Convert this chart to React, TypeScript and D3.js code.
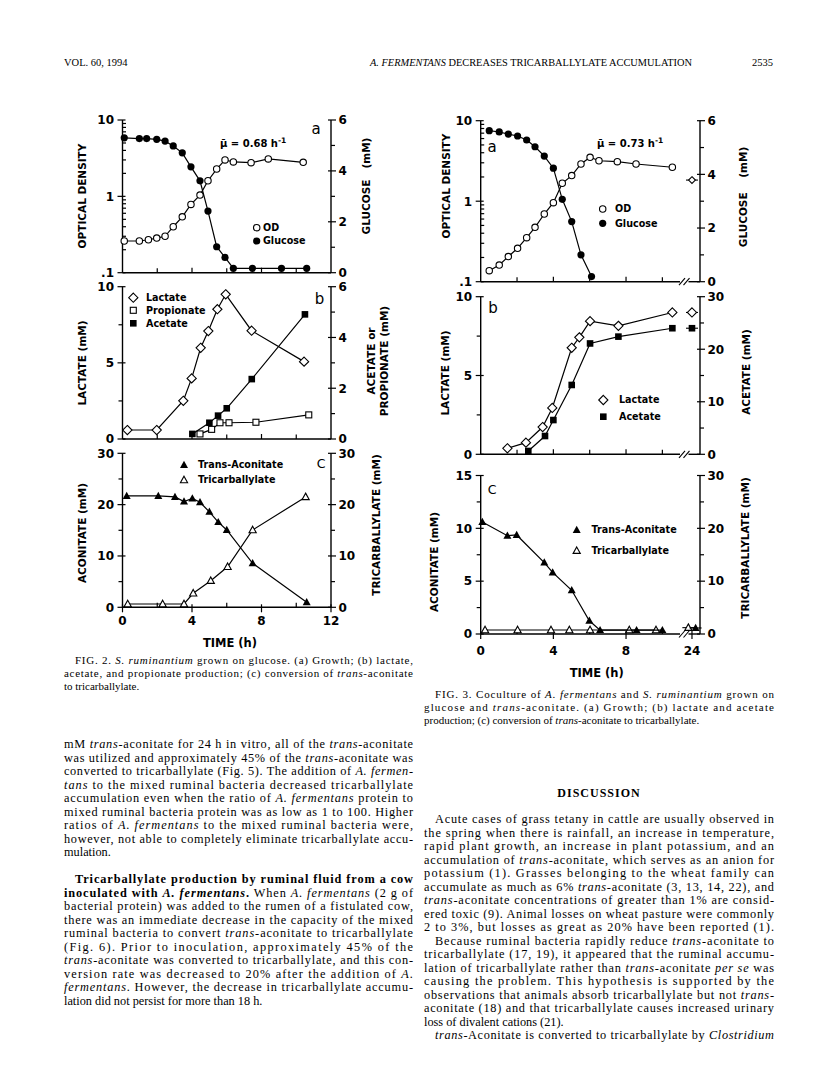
import React from "react";
import * as d3 from "d3";

// ---------------- Fig. 2 data (S. ruminantium on glucose) ----------------
const f2aOdTime = [0.1, 0.97, 1.49, 1.97, 2.45, 2.92, 3.44, 3.94, 4.46, 4.92, 5.42, 5.9, 6.38, 7.4, 8.39, 10.4];
const f2aOd = [0.26, 0.26, 0.27, 0.284, 0.3, 0.4, 0.54, 0.785, 1.04, 1.6, 2.28, 3.0, 2.82, 2.76, 3.09, 2.79];
const f2aGluTime = [0.1, 0.97, 1.39, 1.97, 2.45, 2.92, 3.44, 3.94, 4.46, 4.92, 5.42, 5.9, 6.38, 7.48, 9.15, 10.6];
const f2aGlu = [5.3, 5.27, 5.27, 5.24, 5.17, 4.98, 4.71, 4.16, 3.61, 2.42, 1.02, 0.6, 0.17, 0.17, 0.17, 0.17];

const f2bLacTime = [0.28, 1.97, 3.5, 3.98, 4.5, 4.94, 5.46, 5.94, 7.43, 10.45];
const f2bLac = [0.59, 0.59, 2.51, 3.98, 5.99, 7.09, 8.52, 9.5, 7.11, 5.08];
const f2bPropTime = [4.46, 5.13, 5.61, 6.13, 7.68, 10.72];
const f2bProp = [0.2, 0.38, 0.64, 0.64, 0.66, 0.95];
const f2bAceTime = [4.02, 5.0, 5.5, 6.0, 7.44, 10.5];
const f2bAce = [0.2, 0.64, 0.92, 1.21, 2.36, 4.91];

const f2cAconTime = [0.24, 2.06, 3.02, 3.54, 4.02, 4.46, 5.0, 5.51, 6.0, 7.49, 10.6];
const f2cAcon = [21.7, 21.7, 21.5, 20.6, 21.2, 20.45, 18.6, 16.6, 15.06, 8.57, 0.97];
const f2cTricTime = [0.3, 2.31, 3.54, 4.07, 5.08, 6.05, 7.49, 10.54];
const f2cTric = [0.64, 0.64, 0.64, 2.73, 5.18, 7.9, 15.06, 21.5];

// ---------------- Fig. 3 data (coculture) ----------------
const f3aOdTime = [0.47, 1.02, 1.52, 2.03, 2.53, 2.99, 3.5, 4.0, 4.49, 5.01, 5.52, 6.02, 6.51, 7.52, 8.55, 10.55, 24];
const f3aOd = [0.137, 0.161, 0.205, 0.26, 0.352, 0.473, 0.693, 0.96, 1.67, 2.08, 2.9, 3.51, 3.18, 3.1, 2.9, 2.64, 1.83];
const f3aGluTime = [0.47, 1.02, 1.52, 2.03, 2.53, 2.99, 3.5, 4.0, 4.49, 5.01, 5.52, 6.1];
const f3aGlu = [5.63, 5.58, 5.5, 5.43, 5.28, 5.03, 4.68, 4.23, 3.07, 2.24, 1.0, 0.19];

const f3bLacTime = [1.47, 2.49, 3.41, 3.94, 5.01, 5.43, 6.02, 7.58, 10.55, 24];
const f3bLac = [0.38, 0.74, 1.73, 2.94, 6.76, 7.42, 8.45, 8.15, 9.0, 9.0];
const f3bAceTime = [2.62, 3.54, 4.0, 5.01, 6.02, 7.58, 10.55, 24];
const f3bAce = [0.63, 3.48, 6.52, 13.2, 21.1, 22.4, 24.0, 24.0];

const f3cAconTime = [0.09, 1.47, 1.98, 3.5, 3.96, 5.01, 5.98, 6.57, 8.58, 10.0, 24.2];
const f3cAcon = [10.6, 9.3, 9.37, 6.76, 5.83, 4.14, 1.25, 0.37, 0.37, 0.37, 0.57];
const f3cTricTime = [0.24, 2.03, 3.87, 4.88, 6.02, 8.18, 9.65, 23.8];
const f3cTric = [0.76, 0.76, 0.76, 0.76, 0.76, 0.76, 0.76, 1.2];

// ---------------- tick definitions ----------------
const logMajor = [0.1, 1, 10];
const logMajorLabels = [".1", "1", "10"];
const glucoseTicks = [0, 1, 2, 3, 4, 5, 6];
const glucoseLabeled = [0, 2, 4, 6];
const lactateTicks = [0, 2.5, 5, 7.5, 10];
const lactateLabeled = [0, 5, 10];
const thirtyTicks = [0, 5, 10, 15, 20, 25, 30];
const thirtyLabeled = [0, 10, 20, 30];
const fifteenTicks = [0, 2.5, 5, 7.5, 10, 12.5, 15];
const fifteenLabeled = [0, 5, 10, 15];
const f2TimeLabeled = [0, 4, 8, 12];
const f2TimeMinor = [2, 6, 10];
const f3TimeLabeled = [0, 4, 8, 24];
const f3TimeMinor = [2, 6, 10];

// ---------------- page text ----------------
const headerLeft = "VOL. 60, 1994";
const headerTitle = "A. FERMENTANS DECREASES TRICARBALLYLATE ACCUMULATION";
const headerPage = "2535";

const fig2Caption = [
  "FIG. 2. *S. ruminantium* grown on glucose. (a) Growth; (b) lactate,",
  "acetate, and propionate production; (c) conversion of *trans*-aconitate",
  "to tricarballylate.",
];
const fig3Caption = [
  "FIG. 3. Coculture of *A. fermentans* and *S. ruminantium* grown on",
  "glucose and *trans*-aconitate. (a) Growth; (b) lactate and acetate",
  "production; (c) conversion of *trans*-aconitate to tricarballylate.",
];
const leftPara1 = [
  "mM *trans*-aconitate for 24 h in vitro, all of the *trans*-aconitate",
  "was utilized and approximately 45% of the *trans*-aconitate was",
  "converted to tricarballylate (Fig. 5). The addition of *A. fermen-*",
  "*tans* to the mixed ruminal bacteria decreased tricarballylate",
  "accumulation even when the ratio of *A. fermentans* protein to",
  "mixed ruminal bacteria protein was as low as 1 to 100. Higher",
  "ratios of *A. fermentans* to the mixed ruminal bacteria were,",
  "however, not able to completely eliminate tricarballylate accu-",
  "mulation.",
];
const leftPara2 = [
  "**Tricarballylate production by ruminal fluid from a cow**",
  "**inoculated with *A. fermentans*.** When *A. fermentans* (2 g of",
  "bacterial protein) was added to the rumen of a fistulated cow,",
  "there was an immediate decrease in the capacity of the mixed",
  "ruminal bacteria to convert *trans*-aconitate to tricarballylate",
  "(Fig. 6). Prior to inoculation, approximately 45% of the",
  "*trans*-aconitate was converted to tricarballylate, and this con-",
  "version rate was decreased to 20% after the addition of *A.*",
  "*fermentans*. However, the decrease in tricarballylate accumu-",
  "lation did not persist for more than 18 h.",
];
const rightHeading = "DISCUSSION";
const rightPara1 = [
  "Acute cases of grass tetany in cattle are usually observed in",
  "the spring when there is rainfall, an increase in temperature,",
  "rapid plant growth, an increase in plant potassium, and an",
  "accumulation of *trans*-aconitate, which serves as an anion for",
  "potassium (1). Grasses belonging to the wheat family can",
  "accumulate as much as 6% *trans*-aconitate (3, 13, 14, 22), and",
  "*trans*-aconitate concentrations of greater than 1% are consid-",
  "ered toxic (9). Animal losses on wheat pasture were commonly",
  "2 to 3%, but losses as great as 20% have been reported (1).",
];
const rightPara2 = [
  "Because ruminal bacteria rapidly reduce *trans*-aconitate to",
  "tricarballylate (17, 19), it appeared that the ruminal accumu-",
  "lation of tricarballylate rather than *trans*-aconitate *per se* was",
  "causing the problem. This hypothesis is supported by the",
  "observations that animals absorb tricarballylate but not *trans*-",
  "aconitate (18) and that tricarballylate causes increased urinary",
  "loss of divalent cations (21).",
];
const rightPara3 = ["*trans*-Aconitate is converted to tricarballylate by *Clostridium*"];

// ---------------- helpers ----------------
const SANS = "'DejaVu Sans', 'Liberation Sans', sans-serif";
const SERIF = "'Liberation Serif', 'Times New Roman', serif";
const line = d3.line<[number, number]>().x((d) => d[0]).y((d) => d[1]);

function rich(s: string) {
  const out: any[] = [];
  let bold = false;
  let ital = false;
  let buf = "";
  const flush = () => {
    if (buf) {
      out.push(
        <tspan key={out.length} fontWeight={bold ? "bold" : "normal"} fontStyle={ital ? "italic" : "normal"}>
          {buf}
        </tspan>
      );
      buf = "";
    }
  };
  for (let i = 0; i < s.length; i++) {
    if (s[i] === "*" && s[i + 1] === "*") {
      flush();
      bold = !bold;
      i++;
    } else if (s[i] === "*") {
      flush();
      ital = !ital;
    } else buf += s[i];
  }
  flush();
  return out;
}

function Para({ lines, x, y0, width, lh, size, indent, justifyLast }: any) {
  return (
    <g>
      {lines.map((l: string, i: number) => {
        const ind = i === 0 ? indent : 0;
        const just = i < lines.length - 1 || justifyLast;
        return (
          <text
            key={i}
            x={x + ind}
            y={y0 + i * lh}
            fontFamily={SERIF}
            fontSize={size}
            textLength={just ? width - ind : undefined}
            lengthAdjust={just ? "spacing" : undefined}
            style={{ whiteSpace: "pre" }}
          >
            {rich(l)}
          </text>
        );
      })}
    </g>
  );
}

function Marker({ kind, x, y }: { kind: string; x: number; y: number }) {
  const sw = 1.1;
  switch (kind) {
    case "co":
      return <circle cx={x} cy={y} r={3.2} fill="#fff" stroke="#000" strokeWidth={sw} />;
    case "cf":
      return <circle cx={x} cy={y} r={3.6} fill="#000" />;
    case "do":
      return <path d={`M${x},${y - 4.6}L${x + 4.6},${y}L${x},${y + 4.6}L${x - 4.6},${y}Z`} fill="#fff" stroke="#000" strokeWidth={sw} />;
    case "dos":
      return <path d={`M${x},${y - 3.4}L${x + 3.4},${y}L${x},${y + 3.4}L${x - 3.4},${y}Z`} fill="#fff" stroke="#000" strokeWidth={sw} />;
    case "so":
      return <rect x={x - 3} y={y - 3} width={6} height={6} fill="#fff" stroke="#000" strokeWidth={sw} />;
    case "sf":
      return <rect x={x - 3.3} y={y - 3.3} width={6.6} height={6.6} fill="#000" />;
    case "tf":
      return <path d={`M${x},${y - 4.2}L${x + 4},${y + 3}L${x - 4},${y + 3}Z`} fill="#000" />;
    case "to":
      return <path d={`M${x},${y - 3.8}L${x + 3.6},${y + 2.7}L${x - 3.6},${y + 2.7}Z`} fill="#fff" stroke="#000" strokeWidth={sw} />;
  }
  return null;
}

function Series({ times, vals, x, y, kind, kindAfter }: any) {
  const pts = times.map((t: number, i: number) => ({ t, px: x(t), py: y(vals[i]) }));
  const main = pts.filter((p: any) => p.t < 20);
  const after = pts.filter((p: any) => p.t >= 20);
  return (
    <g>
      <path d={line(main.map((p: any) => [p.px, p.py])) || ""} fill="none" stroke="#000" strokeWidth={1.2} />
      {after.map((p: any, i: number) => (
        <line key={"s" + i} x1={p.px - 6} x2={p.px + 6} y1={p.py} y2={p.py} stroke="#000" strokeWidth={1.1} />
      ))}
      {pts.map((p: any, i: number) => (
        <Marker key={i} kind={p.t >= 20 && kindAfter ? kindAfter : kind} x={p.px} y={p.py} />
      ))}
    </g>
  );
}

function YAxis({ x, scale, ticks, labeled, labels, side, minorInside, fs }: any) {
  const [r0, r1] = scale.range();
  const dir = side === "left" ? -1 : 1;
  return (
    <g>
      <line x1={x} x2={x} y1={r0} y2={r1} stroke="#000" strokeWidth={1.4} />
      {ticks.map((v: number, i: number) => {
        const yy = scale(v);
        const li = labeled.indexOf(v);
        const major = li >= 0;
        let a: number, b: number;
        if (major) {
          a = -3;
          b = 5;
        } else if (minorInside) {
          a = -3.5;
          b = 0;
        } else {
          a = 0;
          b = 4;
        }
        return (
          <g key={i}>
            <line x1={x + dir * a} x2={x + dir * b} y1={yy} y2={yy} stroke="#000" strokeWidth={1.2} />
            {major && (
              <text
                x={x + dir * (side === "left" ? 8.5 : 7.5)}
                y={yy}
                dy="0.36em"
                textAnchor={side === "left" ? "end" : "start"}
                fontFamily={SANS}
                fontWeight="bold"
                fontSize={fs || 12}
              >
                {labels ? labels[li] : String(v)}
              </text>
            )}
          </g>
        );
      })}
    </g>
  );
}

function VTitle({ x, y, lines }: any) {
  return (
    <text
      transform={`translate(${x},${y}) rotate(-90)`}
      textAnchor="middle"
      fontFamily={SANS}
      fontWeight="bold"
      fontSize={10.5}
      style={{ whiteSpace: "pre" }}
    >
      {lines}
    </text>
  );
}

function Legend({ items, x, tx }: any) {
  return (
    <g>
      {items.map((it: any, i: number) => (
        <g key={i}>
          <Marker kind={it.kind} x={x} y={it.y} />
          <text x={tx} y={it.y} dy="0.36em" fontFamily={SANS} fontWeight="bold" fontSize={9.6}>
            {it.label}
          </text>
        </g>
      ))}
    </g>
  );
}

export default function App() {
  // ---- Fig. 2 scales ----
  const x2 = d3.scaleLinear().domain([0, 12]).range([122.5, 331]);
  const y2aL = d3.scaleLog().domain([0.1, 10]).range([272.7, 120]);
  const y2aR = d3.scaleLinear().domain([0, 6]).range([272.7, 120]);
  const y2bL = d3.scaleLinear().domain([0, 10]).range([439, 286.7]);
  const y2bR = d3.scaleLinear().domain([0, 6]).range([439, 286.7]);
  const y2cL = d3.scaleLinear().domain([0, 30]).range([607.3, 453.3]);
  const y2cR = d3.scaleLinear().domain([0, 30]).range([607.3, 453.3]);

  // ---- Fig. 3 scales (broken time axis) ----
  const x3base = d3.scaleLinear().domain([0, 12]).range([480.7, 698.7]);
  const x3 = (t: number) => (t > 20 ? x3base(t - 24 + 11.63) : x3base(t));
  const y3aL = d3.scaleLog().domain([0.1, 10]).range([281.7, 120.7]);
  const y3aR = d3.scaleLinear().domain([0, 6]).range([281.7, 120.7]);
  const y3bL = d3.scaleLinear().domain([0, 10]).range([454.3, 296.7]);
  const y3bR = d3.scaleLinear().domain([0, 30]).range([454.3, 296.7]);
  const y3cL = d3.scaleLinear().domain([0, 15]).range([634, 475.5]);
  const y3cR = d3.scaleLinear().domain([0, 30]).range([634, 475.5]);

  const logMinor: number[] = [];
  [0.1, 1].forEach((d) => {
    for (let k = 2; k <= 9; k++) logMinor.push(d * k);
  });
  const logTicks = [...logMajor, ...logMinor];

  const x2L = x2(0);
  const x2R = x2(12);
  const x3L = x3base(0);
  const x3R = 700;

  const bottom2 = (yy: number, labeled: boolean) => (
    <g>
      <line x1={x2L} x2={x2R} y1={yy} y2={yy} stroke="#000" strokeWidth={1.4} />
      {labeled
        ? f2TimeLabeled.map((t) => (
            <g key={t}>
              <line x1={x2(t)} x2={x2(t)} y1={yy - 3} y2={yy + 5} stroke="#000" strokeWidth={1.2} />
              <text x={x2(t)} y={yy + 18} textAnchor="middle" fontFamily={SANS} fontWeight="bold" fontSize={12}>
                {t}
              </text>
            </g>
          ))
        : [4, 8].map((t) => <line key={t} x1={x2(t)} x2={x2(t)} y1={yy - 5} y2={yy} stroke="#000" strokeWidth={1.2} />)}
      {f2TimeMinor.map((t) => (
        <line key={"m" + t} x1={x2(t)} x2={x2(t)} y1={yy - 4.5} y2={yy} stroke="#000" strokeWidth={1.2} />
      ))}
    </g>
  );

  const bottom3 = (yy: number, labeled: boolean) => (
    <g>
      <line x1={x3L} x2={680} y1={yy} y2={yy} stroke="#000" strokeWidth={1.4} />
      <line x1={688.5} x2={x3R} y1={yy} y2={yy} stroke="#000" strokeWidth={1.4} />
      <line x1={679} x2={685} y1={yy + 3.5} y2={yy - 3.5} stroke="#000" strokeWidth={1.1} />
      <line x1={683.5} x2={689.5} y1={yy + 3.5} y2={yy - 3.5} stroke="#000" strokeWidth={1.1} />
      {labeled
        ? f3TimeLabeled.map((t) => (
            <g key={t}>
              <line x1={x3(t)} x2={x3(t)} y1={yy - 3} y2={yy + 5} stroke="#000" strokeWidth={1.2} />
              <text x={x3(t)} y={yy + 21} textAnchor="middle" fontFamily={SANS} fontWeight="bold" fontSize={12}>
                {t}
              </text>
            </g>
          ))
        : [4, 8].map((t) => <line key={t} x1={x3(t)} x2={x3(t)} y1={yy - 5} y2={yy} stroke="#000" strokeWidth={1.2} />)}
      {f3TimeMinor.map((t) => (
        <line key={"m" + t} x1={x3(t)} x2={x3(t)} y1={yy - 4.5} y2={yy} stroke="#000" strokeWidth={1.2} />
      ))}
    </g>
  );

  const mu = (x: number, y: number, val: string) => (
    <text x={x} y={y} dy="0.36em" fontFamily={SANS} fontWeight="bold" fontSize={10}>
      {"\u03BC\u0304 = " + val + " h"}
      <tspan dy="-4" fontSize={7.5}>
        -1
      </tspan>
    </text>
  );

  const panelLetter = (x: number, y: number, s: string, size: number) => (
    <text x={x} y={y} dy="0.36em" textAnchor="middle" fontFamily={SANS} fontSize={size}>
      {s}
    </text>
  );

  const bodyLh = 13.5;
  const leftTop = 748;
  const rightTop = 823;

  return (
    <svg width={816} height={1090} style={{ position: "absolute", left: 0, top: 0, background: "#fff" }}>
      <rect width={816} height={1090} fill="#fff" />

      {/* header */}
      <text x={64} y={66} fontFamily={SERIF} fontSize={10.5}>
        {headerLeft}
      </text>
      <text x={370} y={66} fontFamily={SERIF} fontSize={10.5} textLength={322} lengthAdjust="spacingAndGlyphs">
        <tspan fontStyle="italic">{headerTitle.slice(0, 13)}</tspan>
        {headerTitle.slice(13)}
      </text>
      <text x={773} y={66} textAnchor="end" fontFamily={SERIF} fontSize={10.5}>
        {headerPage}
      </text>

      {/* ================= FIG 2 ================= */}
      {/* panel a */}
      <YAxis x={x2L} scale={y2aL} ticks={logTicks} labeled={logMajor} labels={logMajorLabels} side="left" minorInside />
      <YAxis x={x2R} scale={y2aR} ticks={glucoseTicks} labeled={glucoseLabeled} side="right" />
      {bottom2(272.7, false)}
      <Series times={f2aOdTime} vals={f2aOd} x={x2} y={y2aL} kind="co" />
      <Series times={f2aGluTime} vals={f2aGlu} x={x2} y={y2aR} kind="cf" />
      {mu(220, 143, "0.68")}
      {panelLetter(316, 129, "a", 15)}
      <Legend x={256.7} tx={263} items={[{ kind: "co", y: 227.7, label: "OD" }, { kind: "cf", y: 241, label: "Glucose" }]} />
      <VTitle x={86} y={196} lines="OPTICAL DENSITY" />
      <VTitle x={370} y={186} lines={"GLUCOSE   (mM)"} />

      {/* panel b */}
      <YAxis x={x2L} scale={y2bL} ticks={lactateTicks} labeled={lactateLabeled} side="left" />
      <YAxis x={x2R} scale={y2bR} ticks={glucoseTicks} labeled={glucoseLabeled} side="right" />
      {bottom2(439, false)}
      <Series times={f2bLacTime} vals={f2bLac} x={x2} y={y2bL} kind="do" />
      <Series times={f2bPropTime} vals={f2bProp} x={x2} y={y2bR} kind="so" />
      <Series times={f2bAceTime} vals={f2bAce} x={x2} y={y2bR} kind="sf" />
      {panelLetter(319.5, 299, "b", 15)}
      <Legend
        x={133.3}
        tx={146}
        items={[
          { kind: "do", y: 297.7, label: "Lactate" },
          { kind: "so", y: 310.3, label: "Propionate" },
          { kind: "sf", y: 323.3, label: "Acetate" },
        ]}
      />
      <VTitle x={86} y={363} lines="LACTATE (mM)" />
      <VTitle x={375} y={361} lines="ACETATE or" />
      <VTitle x={388} y={361} lines="PROPIONATE (mM)" />

      {/* panel c */}
      <YAxis x={x2L} scale={y2cL} ticks={thirtyTicks} labeled={thirtyLabeled} side="left" />
      <YAxis x={x2R} scale={y2cR} ticks={thirtyTicks} labeled={thirtyLabeled} side="right" />
      {bottom2(607.3, true)}
      <Series times={f2cAconTime} vals={f2cAcon} x={x2} y={y2cL} kind="tf" />
      <Series times={f2cTricTime} vals={f2cTric} x={x2} y={y2cR} kind="to" />
      {panelLetter(321, 463, "C", 12.5)}
      <Legend
        x={184}
        tx={198}
        items={[
          { kind: "tf", y: 465, label: "Trans-Aconitate" },
          { kind: "to", y: 480, label: "Tricarballylate" },
        ]}
      />
      <VTitle x={86} y={533} lines="ACONITATE (mM)" />
      <VTitle x={380} y={525} lines="TRICARBALLYLATE (mM)" />
      <text x={230} y={647} textAnchor="middle" fontFamily={SANS} fontWeight="bold" fontSize={11.5}>
        TIME (h)
      </text>

      {/* ================= FIG 3 ================= */}
      {/* panel a */}
      <YAxis x={x3L} scale={y3aL} ticks={logTicks} labeled={logMajor} labels={logMajorLabels} side="left" minorInside />
      <YAxis x={x3R} scale={y3aR} ticks={glucoseTicks} labeled={glucoseLabeled} side="right" />
      {bottom3(281.7, false)}
      <Series times={f3aOdTime} vals={f3aOd} x={x3} y={y3aL} kind="co" kindAfter="dos" />
      <Series times={f3aGluTime} vals={f3aGlu} x={x3} y={y3aR} kind="cf" />
      {mu(597, 143, "0.73")}
      {panelLetter(492, 147, "a", 15)}
      <Legend x={602.7} tx={615} items={[{ kind: "co", y: 209, label: "OD" }, { kind: "cf", y: 223.3, label: "Glucose" }]} />
      <VTitle x={450} y={186} lines="OPTICAL DENSITY" />
      <VTitle x={747} y={197} lines={"GLUCOSE    (mM)"} />

      {/* panel b */}
      <YAxis x={x3L} scale={y3bL} ticks={lactateTicks} labeled={lactateLabeled} side="left" />
      <YAxis x={x3R} scale={y3bR} ticks={thirtyTicks} labeled={thirtyLabeled} side="right" />
      {bottom3(454.3, false)}
      <Series times={f3bLacTime} vals={f3bLac} x={x3} y={y3bL} kind="do" />
      <Series times={f3bAceTime} vals={f3bAce} x={x3} y={y3bR} kind="sf" />
      {panelLetter(493, 308, "b", 15)}
      <Legend
        x={603.3}
        tx={619}
        items={[
          { kind: "do", y: 400, label: "Lactate" },
          { kind: "sf", y: 416.7, label: "Acetate" },
        ]}
      />
      <VTitle x={449} y={373} lines="LACTATE (mM)" />
      <VTitle x={750} y={372} lines="ACETATE (mM)" />

      {/* panel c */}
      <YAxis x={x3L} scale={y3cL} ticks={fifteenTicks} labeled={fifteenLabeled} side="left" />
      <YAxis x={x3R} scale={y3cR} ticks={thirtyTicks} labeled={thirtyLabeled} side="right" />
      {bottom3(634, true)}
      <Series times={f3cTricTime} vals={f3cTric} x={x3} y={y3cR} kind="to" />
      <Series times={f3cAconTime} vals={f3cAcon} x={x3} y={y3cL} kind="tf" />
      {panelLetter(492, 489, "C", 12.5)}
      <Legend
        x={576.7}
        tx={591.5}
        items={[
          { kind: "tf", y: 530, label: "Trans-Aconitate" },
          { kind: "to", y: 550.7, label: "Tricarballylate" },
        ]}
      />
      <VTitle x={438} y={562} lines="ACONITATE (mM)" />
      <VTitle x={749} y={548} lines="TRICARBALLYLATE (mM)" />
      <text x={596.7} y={677} textAnchor="middle" fontFamily={SANS} fontWeight="bold" fontSize={11.5}>
        TIME (h)
      </text>

      {/* captions */}
      <Para lines={fig2Caption} x={64} y0={664} width={349} lh={12.8} size={11} indent={11} />
      <Para lines={fig3Caption} x={424} y0={698} width={350} lh={12.8} size={11} indent={11} />

      {/* body text */}
      <Para lines={leftPara1} x={64} y0={leftTop} width={349} lh={bodyLh} size={12.3} indent={0} />
      <Para lines={leftPara2} x={64} y0={leftTop + 10 * bodyLh} width={349} lh={bodyLh} size={12.3} indent={11} />

      <text x={599} y={rightTop - 26} textAnchor="middle" fontFamily={SERIF} fontWeight="bold" fontSize={12} letterSpacing={1}>
        {rightHeading}
      </text>
      <Para lines={rightPara1} x={424} y0={rightTop} width={350} lh={bodyLh} size={12.3} indent={11} justifyLast />
      <Para lines={rightPara2} x={424} y0={rightTop + 9 * bodyLh} width={350} lh={bodyLh} size={12.3} indent={11} />
      <Para lines={rightPara3} x={424} y0={rightTop + 16 * bodyLh} width={350} lh={bodyLh} size={12.3} indent={11} justifyLast />
    </svg>
  );
}
